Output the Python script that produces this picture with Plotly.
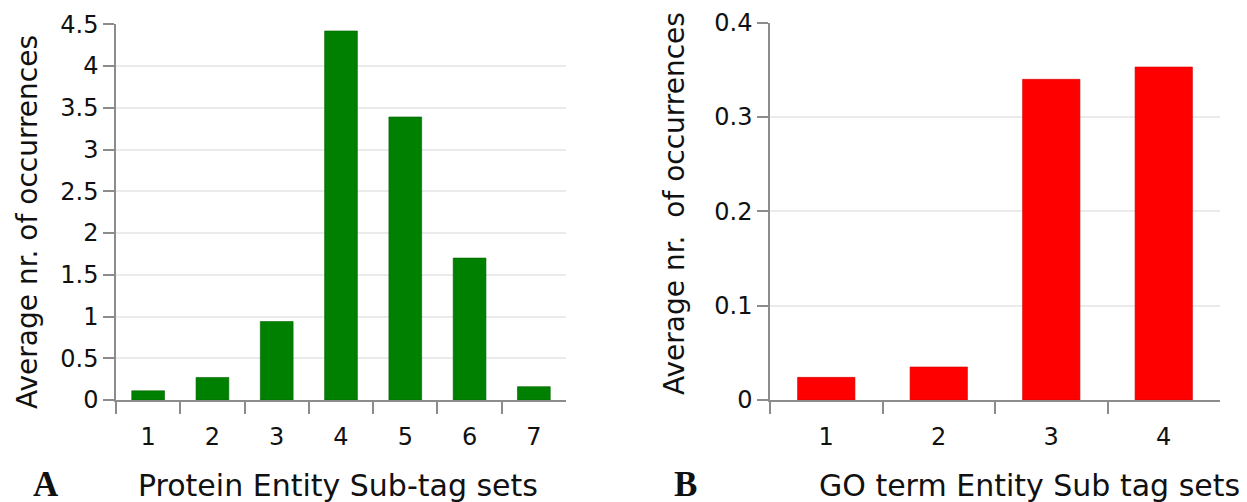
import plotly.graph_objects as go

# ---- data ----
protein_sets = [1, 2, 3, 4, 5, 6, 7]
protein_avg = [0.11, 0.27, 0.94, 4.42, 3.39, 1.70, 0.16]

go_sets = [1, 2, 3, 4]
go_avg = [0.024, 0.035, 0.340, 0.353]

protein_ylabel = "Average nr. of occurrences"
go_ylabel = "Average nr.&nbsp; of occurrences"
protein_xlabel = "Protein Entity Sub-tag sets"
go_xlabel = "GO term Entity Sub tag sets"

VW, VH = 1247, 502          # browser window
OFF = 8                     # default page body margin
W, H = VW - OFF, VH - OFF   # figure size so it fills the window
FONT = "DejaVu Sans"
AXIS_COL = "#8c8c8c"
GRID_COL = "#ebebeb"


def fx(px):
    return (px - OFF) / W


def fy(py):
    return 1 - (py - OFF) / H


fig = go.Figure()
fig.add_trace(go.Bar(x=protein_sets, y=protein_avg, xaxis="x", yaxis="y",
                     width=0.51, marker=dict(color="#008000", line=dict(color="#006400", width=0.6)),
                     showlegend=False))
fig.add_trace(go.Bar(x=go_sets, y=go_avg, xaxis="x2", yaxis="y2",
                     width=0.51, marker=dict(color="#ff0000", line=dict(color="#d00000", width=0.6)),
                     showlegend=False))


def xaxis_cfg(domain, n):
    return dict(
        domain=domain, range=[0.5, n + 0.5], tickmode="array", automargin=False,
        tickvals=list(range(1, n + 1)), ticks="", showgrid=False, zeroline=False,
        showline=True, linecolor=AXIS_COL, linewidth=1.5,
        tickfont=dict(family=FONT, size=24, color="#111"),
        ticklabelstandoff=14,
        minor=dict(tickmode="array", tickvals=[i + 0.5 for i in range(n)],
                   ticks="outside", ticklen=12, tickcolor=AXIS_COL, tickwidth=1.5,
                   showgrid=False),
        fixedrange=True,
    )


def yaxis_cfg(domain, rng, dtick):
    return dict(
        domain=domain, range=rng, dtick=dtick, tick0=0, ticks="outside", ticklen=11,
        automargin=False,
        tickcolor=AXIS_COL, tickwidth=1.5, showline=True, linecolor=AXIS_COL, linewidth=1.5,
        showgrid=True, gridcolor=GRID_COL, gridwidth=1.5, zeroline=False,
        tickfont=dict(family=FONT, size=24, color="#111"), fixedrange=True,
    )


fig.update_layout(
    template="none",
    width=W, height=H,
    margin=dict(l=0, r=0, t=0, b=0, autoexpand=False),
    paper_bgcolor="white", plot_bgcolor="white",
    bargap=0.49,
    xaxis=dict(xaxis_cfg([fx(116), fx(566)], 7), anchor="y"),
    yaxis=dict(yaxis_cfg([fy(400), fy(24.3)], [0, 4.5], 0.5), anchor="x"),
    xaxis2=dict(xaxis_cfg([fx(770), fx(1220)], 4), anchor="y2"),
    yaxis2=dict(yaxis_cfg([fy(400), fy(22.7)], [0, 0.4], 0.1), anchor="x2"),
    annotations=[
        dict(text=protein_ylabel, x=fx(27), y=fy(222), xref="paper", yref="paper",
             textangle=-90, showarrow=False, font=dict(family=FONT, size=28, color="#111"),
             xanchor="center", yanchor="middle"),
        dict(text=go_ylabel, x=fx(674), y=fy(203), xref="paper", yref="paper",
             textangle=-90, showarrow=False, font=dict(family=FONT, size=28, color="#111"),
             xanchor="center", yanchor="middle"),
        dict(text=protein_xlabel, x=fx(337.5), y=fy(485), xref="paper", yref="paper",
             showarrow=False, font=dict(family=FONT, size=30, color="#111"),
             xanchor="center", yanchor="middle"),
        dict(text=go_xlabel, x=fx(1030), y=fy(485), xref="paper", yref="paper",
             showarrow=False, font=dict(family=FONT, size=30, color="#111"),
             xanchor="center", yanchor="middle"),
        dict(text="<b>A</b>", x=fx(46), y=fy(484), xref="paper", yref="paper",
             showarrow=False, font=dict(family="Liberation Serif", size=35, color="#111"),
             xanchor="center", yanchor="middle"),
        dict(text="<b>B</b>", x=fx(685), y=fy(484), xref="paper", yref="paper",
             showarrow=False, font=dict(family="Liberation Serif", size=35, color="#111"),
             xanchor="center", yanchor="middle"),
    ],
)

fig.write_html("out.html", config={"displayModeBar": False})
